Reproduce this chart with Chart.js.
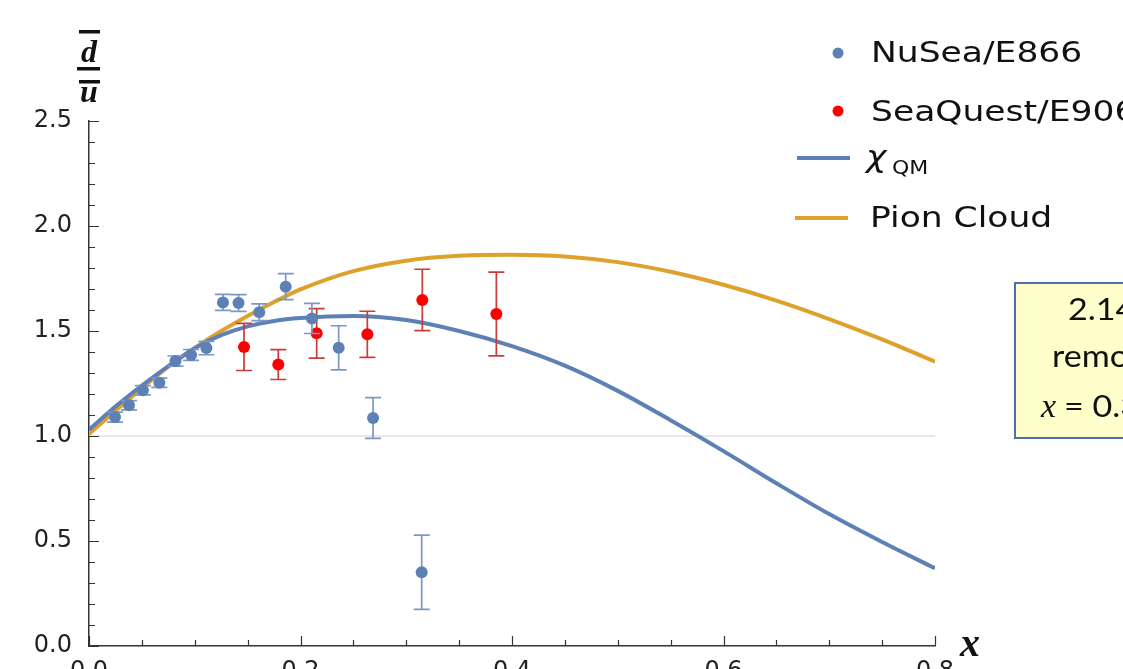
<!DOCTYPE html>
<html><head><meta charset="utf-8">
<script src="https://cdn.jsdelivr.net/npm/chart.js@4.4.1/dist/chart.umd.min.js"></script>
<style>
html,body{margin:0;padding:0;background:#fff;overflow:hidden;}
#wrap{position:relative;width:1123px;height:669px;overflow:hidden;}
canvas{display:block;}
</style></head><body>
<div id="wrap"><canvas id="c" width="1123" height="700"></canvas></div>
<script>
// ---- data ----
const nuseaX   = [0.0246, 0.0378, 0.0510, 0.0665, 0.0818, 0.0965, 0.1110, 0.1267, 0.1414, 0.1610, 0.1860, 0.2108, 0.2361, 0.2686, 0.3146];
const nuseaY   = [1.090, 1.146, 1.218, 1.254, 1.357, 1.386, 1.419, 1.636, 1.633, 1.589, 1.711, 1.560, 1.420, 1.086, 0.351];
const nuseaErr = [0.024, 0.022, 0.022, 0.022, 0.024, 0.026, 0.032, 0.038, 0.040, 0.040, 0.062, 0.072, 0.105, 0.097, 0.177];

const seaquestX   = [0.1466, 0.1790, 0.2153, 0.2632, 0.3152, 0.3852];
const seaquestY   = [1.424, 1.340, 1.489, 1.484, 1.648, 1.581];
const seaquestErr = [0.112, 0.071, 0.118, 0.110, 0.146, 0.199];

const curveX   = [0, 0.025, 0.05, 0.075, 0.1, 0.125, 0.15, 0.175, 0.2, 0.25, 0.3, 0.35, 0.4, 0.45, 0.5, 0.55, 0.6, 0.65, 0.7, 0.75, 0.8];
const chiQM    = [1.03, 1.14, 1.24, 1.333, 1.418, 1.48, 1.522, 1.548, 1.562, 1.572, 1.552, 1.500, 1.428, 1.335, 1.215, 1.075, 0.928, 0.775, 0.628, 0.495, 0.37];
const pionCloud= [1.01, 1.12, 1.228, 1.33, 1.42, 1.50, 1.572, 1.638, 1.698, 1.785, 1.835, 1.858, 1.863, 1.855, 1.828, 1.782, 1.720, 1.645, 1.557, 1.460, 1.354];

const xTickValues = [0, 0.2, 0.4, 0.6, 0.8];
const xTickLabels = ['0.0', '0.2', '0.4', '0.6', '0.8'];
const yTickValues = [0, 0.5, 1.0, 1.5, 2.0, 2.5];
const yTickLabels = ['0.0', '0.5', '1.0', '1.5', '2.0', '2.5'];

const seriesNames = ['NuSea/E866', 'SeaQuest/E906', 'QM', 'Pion Cloud'];
const noteLines = ['2.14σ discrepancy', 'removing the point', '= 0.315'];

// ---- styles ----
const BLUE = '#5E81B5', BLUE_ERR = '#7D98C4', RED = '#FF0000', RED_ERR = '#C83C3C', GOLD = '#DDA12C';
const AXIS = '#333333';

const toXY = (xs, ys) => xs.map((x, i) => ({x: x, y: ys[i]}));

const errSpecs = {
  0: {x: nuseaX, y: nuseaY, e: nuseaErr, color: BLUE_ERR},
  1: {x: seaquestX, y: seaquestY, e: seaquestErr, color: RED_ERR}
};

function wideText(ctx, text, x, y, sx) {
  ctx.save();
  ctx.translate(x, y);
  ctx.scale(sx, 1);
  ctx.fillText(text, 0, 0);
  ctx.restore();
}

const decor = {
  id: 'decor',
  beforeDatasetsDraw(chart) {
    const {ctx, chartArea: a, scales: {y}} = chart;
    const py = y.getPixelForValue(1.0);
    ctx.save();
    ctx.strokeStyle = '#E2E2E2'; ctx.lineWidth = 1.5;
    ctx.beginPath(); ctx.moveTo(a.left, py); ctx.lineTo(a.right, py); ctx.stroke();
    ctx.restore();
  },
  beforeDatasetDraw(chart, args) {
    const spec = errSpecs[args.index];
    if (!spec) return;
    const {ctx, scales: {x, y}} = chart;
    ctx.save();
    ctx.strokeStyle = spec.color; ctx.lineWidth = 1.7;
    spec.x.forEach((xv, k) => {
      const px = x.getPixelForValue(xv);
      const lo = y.getPixelForValue(spec.y[k] - spec.e[k]);
      const hi = y.getPixelForValue(spec.y[k] + spec.e[k]);
      ctx.beginPath();
      ctx.moveTo(px, lo); ctx.lineTo(px, hi);
      ctx.moveTo(px - 8, lo); ctx.lineTo(px + 8, lo);
      ctx.moveTo(px - 8, hi); ctx.lineTo(px + 8, hi);
      ctx.stroke();
    });
    ctx.restore();
  },
  afterDraw(chart) {
    const {ctx, chartArea: a, scales: {x, y}} = chart;
    ctx.save();
    // inward ticks
    ctx.strokeStyle = AXIS; ctx.lineWidth = 1.2;
    ctx.beginPath();
    for (let i = 0; i <= 16; i++) {
      const px = Math.round(x.getPixelForValue(i * 0.05)) + 0.5;
      const len = (i % 4 === 0) ? 10 : 6;
      ctx.moveTo(px, a.bottom); ctx.lineTo(px, a.bottom - len);
    }
    for (let i = 0; i <= 25; i++) {
      const py = Math.round(y.getPixelForValue(i * 0.1)) + 0.5;
      const len = (i % 5 === 0) ? 10 : 6;
      ctx.moveTo(a.left, py); ctx.lineTo(a.left + len, py);
    }
    ctx.stroke();

    // y-axis title: dbar / ubar
    ctx.fillStyle = '#111'; ctx.strokeStyle = '#111';
    ctx.font = 'bold italic 32px "Liberation Serif"';
    ctx.textAlign = 'center'; ctx.textBaseline = 'alphabetic';
    ctx.fillText('d', 89, 62);
    ctx.fillText('u', 89, 102);
    ctx.fillRect(79, 30, 21, 3.5);
    ctx.fillRect(77, 67, 23, 3.5);
    ctx.fillRect(79, 80, 21, 3.5);
    // x-axis title
    ctx.font = 'bold italic 40px "Liberation Serif"';
    ctx.fillText('x', 970, 656);

    // legend
    ctx.textAlign = 'left';
    ctx.fillStyle = BLUE;
    ctx.beginPath(); ctx.arc(838, 53, 5.5, 0, Math.PI * 2); ctx.fill();
    ctx.fillStyle = RED;
    ctx.beginPath(); ctx.arc(838, 111, 5.5, 0, Math.PI * 2); ctx.fill();
    ctx.fillStyle = '#111';
    ctx.font = '29px "DejaVu Sans"';
    wideText(ctx, seriesNames[0], 871, 62, 1.19);
    wideText(ctx, seriesNames[1], 871, 121, 1.19);
    wideText(ctx, seriesNames[3], 870, 227, 1.19);
    ctx.lineWidth = 4;
    ctx.strokeStyle = BLUE;
    ctx.beginPath(); ctx.moveTo(797, 158); ctx.lineTo(850, 158); ctx.stroke();
    ctx.strokeStyle = GOLD;
    ctx.beginPath(); ctx.moveTo(795, 218); ctx.lineTo(848, 218); ctx.stroke();
    ctx.font = 'italic 30px "DejaVu Sans"';
    wideText(ctx, 'χ', 866, 167, 1.15);
    ctx.font = '19px "DejaVu Sans"';
    wideText(ctx, seriesNames[2], 892, 174, 1.16);

    // note box (cut by the right edge)
    ctx.fillStyle = '#FFFFCC';
    ctx.fillRect(1015, 283, 140, 155);
    ctx.strokeStyle = '#4F6FAE'; ctx.lineWidth = 2;
    ctx.strokeRect(1015, 283, 140, 155);
    ctx.fillStyle = '#111';
    ctx.font = '31px Lato';
    wideText(ctx, noteLines[0], 1068, 320, 1.1);
    wideText(ctx, noteLines[1], 1052, 367, 1.1);
    ctx.font = 'italic 34px "Liberation Serif"';
    ctx.fillText('x', 1041, 417);
    ctx.font = '31px Lato';
    wideText(ctx, noteLines[2], 1064, 417, 1.1);
    ctx.restore();
  }
};

new Chart(document.getElementById('c'), {
  type: 'scatter',
  data: {
    datasets: [
      {label: seriesNames[0], data: toXY(nuseaX, nuseaY), backgroundColor: BLUE, borderWidth: 0, pointRadius: 6, pointHoverRadius: 6},
      {label: seriesNames[1], data: toXY(seaquestX, seaquestY), backgroundColor: RED, borderWidth: 0, pointRadius: 6, pointHoverRadius: 6},
      {label: 'χQM', data: toXY(curveX, chiQM), showLine: true, borderColor: BLUE, borderWidth: 4, pointRadius: 0, cubicInterpolationMode: 'monotone', fill: false},
      {label: seriesNames[3], data: toXY(curveX, pionCloud), showLine: true, borderColor: GOLD, borderWidth: 4, pointRadius: 0, cubicInterpolationMode: 'monotone', fill: false}
    ]
  },
  options: {
    responsive: false,
    animation: false,
    devicePixelRatio: 1,
    layout: {padding: {left: 0, top: 121, right: 188, bottom: 0}},
    plugins: {legend: {display: false}, tooltip: {enabled: false}, title: {display: false}},
    scales: {
      x: {
        type: 'linear', min: 0, max: 0.8,
        grid: {display: false},
        border: {display: true, color: AXIS, width: 1.5},
        afterBuildTicks: s => { s.ticks = xTickValues.map(v => ({value: v})); },
        afterFit: s => { s.height = 54; },
        ticks: {padding: 3, color: '#222', font: {family: 'DejaVu Sans', size: 24}, maxRotation: 0, autoSkip: false,
                callback: (v, i) => xTickLabels[i]}
      },
      y: {
        type: 'linear', min: 0, max: 2.5,
        grid: {display: false},
        border: {display: true, color: AXIS, width: 1.5},
        afterBuildTicks: s => { s.ticks = yTickValues.map(v => ({value: v})); },
        afterFit: s => { s.width = 89; },
        ticks: {padding: 9, color: '#222', font: {family: 'DejaVu Sans', size: 24},
                callback: (v, i) => yTickLabels[i]}
      }
    }
  },
  plugins: [decor]
});
</script>
</body></html>
